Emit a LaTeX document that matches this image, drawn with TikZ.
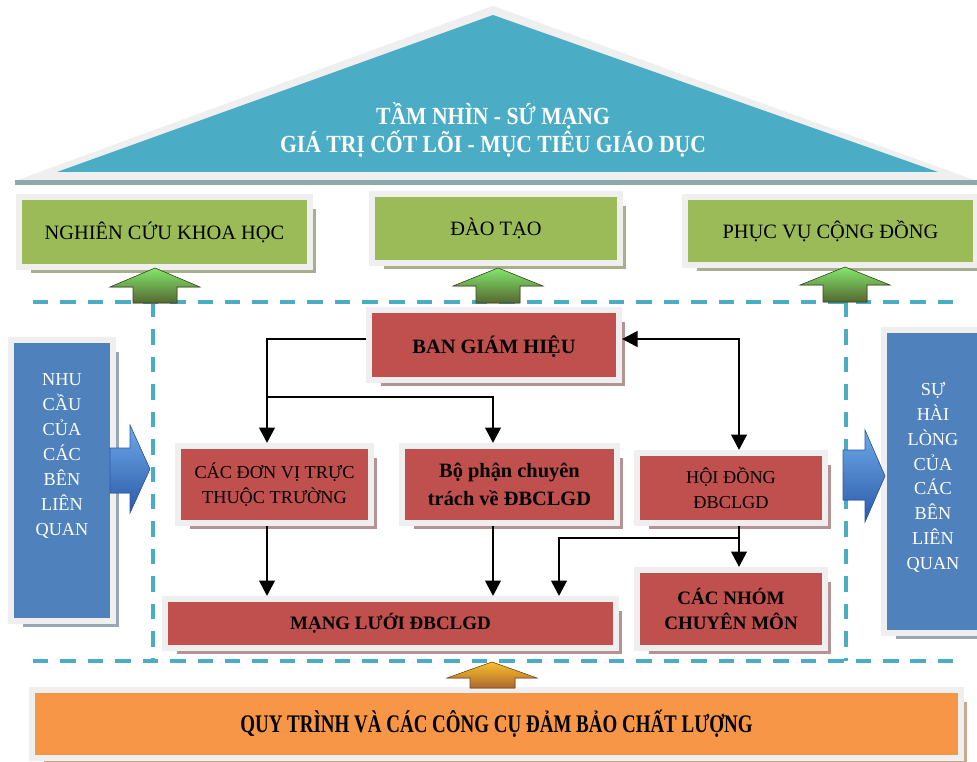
\documentclass[tikz,border=0pt]{standalone}
\usepackage{fontspec}
\setmainfont{Liberation Serif}
\newfontfamily\narrowfont[FakeStretch=0.75]{Liberation Serif}
\newfontfamily\roofnarrow[FakeStretch=0.88]{Liberation Serif}
\usetikzlibrary{arrows.meta,shadows}
\definecolor{roofblue}{HTML}{4BACC6}
\definecolor{leafgreen}{HTML}{9BBB59}
\definecolor{brickred}{HTML}{C0504D}
\definecolor{steelblue}{HTML}{4F81BD}
\definecolor{tangerine}{HTML}{F79646}
\definecolor{rim}{HTML}{EFEFEF}
\definecolor{redshade}{HTML}{B39393}
\definecolor{greenshade}{HTML}{A7AF8F}
\definecolor{blueshade}{HTML}{9AA6B6}
\definecolor{orangeshade}{HTML}{C9A890}
\definecolor{roofband}{HTML}{8FA8AF}
\definecolor{arrlight}{HTML}{6FA8E8}
\definecolor{arrdark}{HTML}{2A5AA8}

\begin{document}
\begin{tikzpicture}[x=0.025cm, y=-0.025cm, >={Triangle[width=11pt,length=11pt]},
  panel/.style={rectangle, inner sep=0pt, outer sep=.15cm, align=center,
    drop shadow={shadow xshift=.22cm, shadow yshift=-.23cm, fill=#1, opacity=1},
    preaction={draw=rim, line width=.3cm}},
  redbox/.style={panel=redshade, fill=brickred, font=\fontsize{13}{17.7}\selectfont},
  redbold/.style={redbox, font=\bfseries\fontsize{14.5}{19.8}\selectfont},
  greenbox/.style={panel=greenshade, fill=leafgreen, font=\fontsize{14.5}{17}\selectfont},
  bluebox/.style={panel=blueshade, fill=steelblue},
  bluetxt/.style={text=white, align=center, inner sep=0pt, font=\fontsize{13}{17.7}\selectfont},
  conn/.style={->, line width=2pt},
  frame/.style={roofblue, line width=2.8pt, dash pattern=on 11pt off 8.5pt},
  greenarr/.style={top color=leafgreen!50!green!70!white, bottom color=leafgreen!55!black, draw=leafgreen!40!black, line width=.4pt},
  bluearr/.style={top color=arrlight, bottom color=arrdark, draw=arrdark, line width=.4pt},
  orangearr/.style={top color=tangerine!60!yellow, bottom color=tangerine!70!black, draw=tangerine!50!black, line width=.4pt}]
\clip (0,0) rectangle (977,761);
\fill[white] (0,0) rectangle (977,761);

% roof
\fill[rim] (493,6) -- (977,181) -- (15,181) -- cycle;
\fill[roofband] (15,180) rectangle (977,185);
\fill[roofblue] (493,15) -- (938,172) -- (57,172) -- cycle;
\node[text=white, align=center, font=\roofnarrow\bfseries\fontsize{17.5}{18}\selectfont] (roof) at (493,130)
  {TẦM NHÌN - SỨ MẠNG\\GIÁ TRỊ CỐT LÕI - MỤC TIÊU GIÁO DỤC};

% three pillars
\node[greenbox, minimum width=7.125cm, minimum height=1.6cm] (nckh) at (164.5,232) {NGHIÊN CỨU KHOA HỌC};
\node[greenbox, minimum width=6.05cm, minimum height=1.575cm] (daotao) at (496,228.5) {ĐÀO TẠO};
\node[greenbox, minimum width=7.125cm, minimum height=1.55cm] (phucvu) at (830.5,231) {PHỤC VỤ CỘNG ĐỒNG};

% dashed frame
\draw[frame] (33,302) -- (960,302);
\draw[frame] (33,661) -- (962,661);
\draw[frame] (153,302) -- (153,661);
\draw[frame] (846,302) -- (846,661);

\fill[greenarr] (133,303) -- (133,287) -- (110,287) -- (155,268) -- (200,287) -- (177,287) -- (177,303) -- cycle;
\fill[greenarr] (476,303) -- (476,286) -- (453,286) -- (498,268) -- (543,286) -- (520,286) -- (520,303) -- cycle;
\fill[greenarr] (823,302) -- (823,285) -- (800,285) -- (845,267) -- (890,285) -- (867,285) -- (867,302) -- cycle;

% stakeholders
\node[bluebox, minimum width=2.4cm, minimum height=6.875cm] (needs) at (62,480.5) {};
\node[bluetxt] (needstxt) at (62,456) {NHU\\CẦU\\CỦA\\CÁC\\BÊN\\LIÊN\\QUAN};
\node[bluebox, minimum width=2.5cm, minimum height=7.425cm] (satisf) at (937,481.5) {};
\node[bluetxt] (satisftxt) at (933,477.5) {SỰ\\HÀI\\LÒNG\\CỦA\\CÁC\\BÊN\\LIÊN\\QUAN};
\fill[bluearr] (110,448) -- (130,448) -- (130,425) -- (150,469) -- (130,513) -- (130,493) -- (110,493) -- cycle;
\fill[bluearr] (843,450) -- (865,450) -- (865,430) -- (885,476) -- (865,522) -- (865,500) -- (843,500) -- cycle;

% organisation
\node[redbold, minimum width=6.1cm, minimum height=1.6cm, text depth=-.12cm] (bgh) at (494,345) {BAN GIÁM HIỆU};
\node[redbox, minimum width=4.675cm, minimum height=1.775cm] (cdv) at (274.5,484.5) {CÁC ĐƠN VỊ TRỰC\\THUỘC TRƯỜNG};
\node[redbold, minimum width=5.225cm, minimum height=1.775cm] (bp) at (509.5,484.5) {Bộ phận chuyên\\trách về ĐBCLGD};
\node[redbox, minimum width=4.55cm, minimum height=1.6cm] (hd) at (731,488) {HỘI ĐỒNG\\ĐBCLGD};
\node[redbold, minimum width=11.125cm, minimum height=1.075cm, font=\bfseries\fontsize{13.5}{17.7}\selectfont] (mld) at (390.5,623.5) {MẠNG LƯỚI ĐBCLGD};
\node[redbold, minimum width=4.55cm, minimum height=1.8cm, font=\bfseries\fontsize{13.5}{17.7}\selectfont] (cnm) at (731,609) {CÁC NHÓM\\CHUYÊN MÔN};

\coordinate (xa) at (267,0);
\coordinate (xb) at (493,0);
\coordinate (xc) at (559,0);
\coordinate (xd) at (739,0);
\coordinate (ya) at (0,339);
\coordinate (yb) at (0,397);
\coordinate (yc) at (0,538);
\draw[conn] (bgh.west |- ya) -| (cdv.north -| xa);
\draw[conn] (xa |- yb) -| (bp.north -| xb);
\draw[conn, <->] (bgh.east |- ya) -| (hd.north -| xd);
\draw[conn] (cdv.south -| xa) -- (mld.north -| xa);
\draw[conn] (bp.south -| xb) -- (mld.north -| xb);
\draw[conn] (hd.south -| xd) -- (cnm.north -| xd);
\draw[conn] (xd |- yc) -| (mld.north -| xc);

% base
\node[panel=orangeshade, fill=tangerine, minimum width=23.075cm, minimum height=1.55cm,
  font=\narrowfont\bfseries\fontsize{18}{20}\selectfont] (quality) at (496.5,724) {QUY TRÌNH VÀ CÁC CÔNG CỤ ĐẢM BẢO CHẤT LƯỢNG};
\fill[orangearr] (470,688) -- (470,678) -- (447,678) -- (492,662) -- (537,678) -- (515,678) -- (515,688) -- cycle;

\end{tikzpicture}
\end{document}
